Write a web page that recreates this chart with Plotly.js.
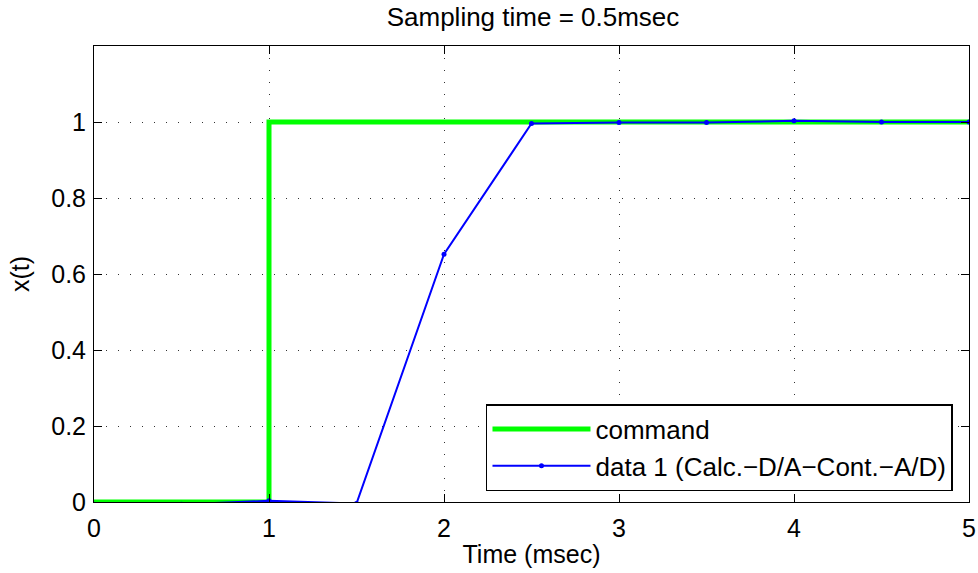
<!DOCTYPE html>
<html>
<head>
<meta charset="utf-8">
<script src="https://cdn.plot.ly/plotly-3.0.1.min.js"></script>
<style>html,body{margin:0;padding:0;background:#fff;}#chart{width:978px;height:573px;}</style>
</head>
<body>
<div id="chart"></div>
<script>
// Command (step) signal
const cmdTime = [0, 1, 1, 5];
const cmdValue = [0, 0, 1, 1];
// Sampled response
const dataTime = [0, 0.5, 1, 1.5, 2, 2.5, 3, 3.5, 4, 4.5, 5];
const dataValue = [-0.006, -0.006, 0.003, -0.004, 0.652, 0.996, 0.999, 0.999, 1.003, 1.0, 1.0];
const xTicks = [0, 1, 2, 3, 4, 5];
const yTicks = [0, 0.2, 0.4, 0.6, 0.8, 1];
const yTickText = ['0', '0.2', '0.4', '0.6', '0.8', '1'];

const FONT = 'Liberation Sans, Arial, Helvetica, sans-serif';
const FS = 25;

const traces = [
  {x: cmdTime, y: cmdValue, type: 'scatter', mode: 'lines', name: 'command',
   line: {color: '#00ff00', width: 5}},
  {x: dataTime, y: dataValue, type: 'scatter', mode: 'lines+markers', name: 'data 1 (Calc.\u2212D/A\u2212Cont.\u2212A/D)',
   line: {color: '#0000ff', width: 2}, marker: {color: '#0000ff', size: 5}}
];

const axisCommon = {
  showline: true, linecolor: '#000', linewidth: 1, mirror: 'ticks',
  ticks: 'inside', ticklen: 8, tickcolor: '#000', tickwidth: 1,
  showgrid: true, gridcolor: '#333', gridwidth: 1, griddash: '1px,11px',
  zeroline: false, tickfont: {family: FONT, size: FS, color: '#000'}
};

const layout = {
  width: 978, height: 573,
  margin: {l: 94, r: 9, t: 46, b: 71},
  paper_bgcolor: '#fff', plot_bgcolor: '#fff',
  font: {family: FONT, size: FS, color: '#000'},
  title: {text: 'Sampling time = 0.5msec', font: {family: FONT, size: 26, color: '#000'},
          x: 0.545, xanchor: 'center', y: 0.97, yanchor: 'middle'},
  xaxis: Object.assign({}, axisCommon, {
    range: [0, 5], tickvals: xTicks, ticktext: xTicks.map(String), ticklabelstandoff: 4,
    title: {text: 'Time (msec)', font: {family: FONT, size: FS, color: '#000'}, standoff: 4}
  }),
  yaxis: Object.assign({}, axisCommon, {
    range: [0, 1.2], tickvals: yTicks, ticktext: yTickText, ticklabelstandoff: 2,
    title: {text: 'x(t)', font: {family: FONT, size: FS, color: '#000'}, standoff: 14}
  }),
  showlegend: true,
  legend: {x: 0.9817, xanchor: 'right', y: 0.024, yanchor: 'bottom',
           bgcolor: '#fff', bordercolor: '#000', borderwidth: 1.5,
           font: {family: FONT, size: 26, color: '#000'}, itemwidth: 98, tracegroupgap: 0}
};

Plotly.newPlot('chart', traces, layout, {displayModeBar: false, staticPlot: true});
</script>
</body>
</html>
